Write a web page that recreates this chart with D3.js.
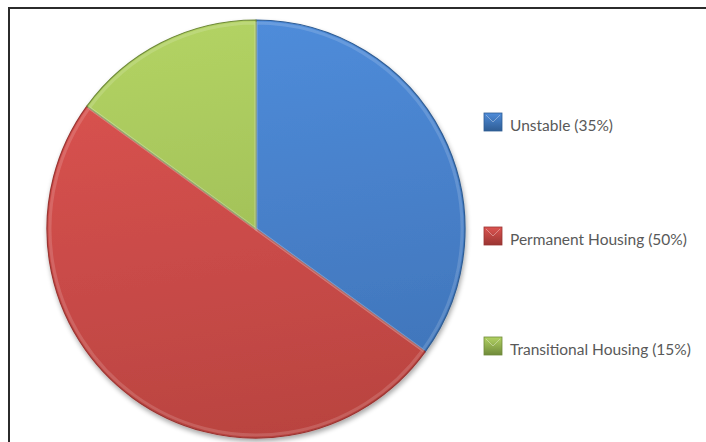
<!DOCTYPE html>
<html>
<head>
<meta charset="utf-8">
<script src="https://cdn.jsdelivr.net/npm/d3@7"></script>
<style>
  body { margin: 0; background: #fff; }
  svg { display: block; }
  .legend text { font-family: 'Lato', 'DejaVu Sans', sans-serif; font-size: 15.5px; fill: #595959; }
</style>
</head>
<body>
<div id="chart"></div>
<script>
// slices, clockwise from 12 o'clock
const categories = [ 'Unstable', 'Permanent Housing', 'Transitional Housing' ];
const shares = [ 35, 50, 15 ];
const legendLabels = [ 'Unstable (35%)', 'Permanent Housing (50%)', 'Transitional Housing (15%)' ];

const topColors = [ '#4f8cda', '#dc5451', '#b2d263' ];
const bottomColors = [ '#3e72b6', '#b94340', '#94b24e' ];
const darkColors = [ '#2f5d94', '#9a3532', '#6f8a3a' ];

const width = 706, height = 442;
const cx = 256, cy = 229, radius = 209;

const svg = d3.select('#chart').append('svg')
  .attr('width', width)
  .attr('height', height);

// frame (only top and left edges fall inside the picture)
svg.append('rect')
  .attr('x', 9).attr('y', 8)
  .attr('width', width + 20).attr('height', height + 20)
  .attr('fill', 'none')
  .attr('stroke', '#2b2b2b')
  .attr('stroke-width', 2);

const defs = svg.append('defs');

const shadow = defs.append('filter').attr('id', 'shadow')
  .attr('x', '-10%').attr('y', '-10%').attr('width', '120%').attr('height', '120%');
shadow.append('feGaussianBlur').attr('in', 'SourceAlpha').attr('stdDeviation', 2.5);
shadow.append('feOffset').attr('dx', 1).attr('dy', 3).attr('result', 'off');
shadow.append('feComponentTransfer').append('feFuncA').attr('type', 'linear').attr('slope', 0.35);
const merge = shadow.append('feMerge');
merge.append('feMergeNode');
merge.append('feMergeNode').attr('in', 'SourceGraphic');

categories.forEach((c, i) => {
  const g = defs.append('linearGradient')
    .attr('id', 'grad' + i)
    .attr('gradientUnits', 'userSpaceOnUse')
    .attr('x1', 0).attr('y1', -radius).attr('x2', radius * 0.3).attr('y2', radius);
  g.append('stop').attr('offset', '0%').attr('stop-color', topColors[i]);
  g.append('stop').attr('offset', '100%').attr('stop-color', bottomColors[i]);

  const sq = defs.append('linearGradient')
    .attr('id', 'sq' + i)
    .attr('x1', 0).attr('y1', 0).attr('x2', 0).attr('y2', 1);
  sq.append('stop').attr('offset', '0%').attr('stop-color', topColors[i]);
  sq.append('stop').attr('offset', '100%').attr('stop-color', darkColors[i]);
});

const pie = d3.pie().sort(null).value(d => d);
const arcs = pie(shares);

const arc = d3.arc().innerRadius(0).outerRadius(radius);
const innerArc = d3.arc().innerRadius(0).outerRadius(radius - 3);

const pieG = svg.append('g')
  .attr('transform', 'translate(' + cx + ',' + cy + ')');

pieG.append('g')
  .attr('filter', 'url(#shadow)')
  .selectAll('path.slice')
  .data(arcs)
  .enter().append('path')
    .attr('class', 'slice')
    .attr('d', arc)
    .attr('fill', (d, i) => 'url(#grad' + i + ')')
    .attr('stroke', (d, i) => darkColors[i])
    .attr('stroke-width', 1.2)
    .attr('stroke-linejoin', 'round');

// soft bevel highlight inside each slice
pieG.selectAll('path.bevel')
  .data(arcs)
  .enter().append('path')
    .attr('class', 'bevel')
    .attr('d', innerArc)
    .attr('fill', 'none')
    .attr('stroke', '#ffffff')
    .attr('stroke-opacity', 0.15)
    .attr('stroke-width', 3);

// legend
const legendY = [ 122, 236, 346 ];
const legend = svg.append('g').attr('class', 'legend');
const items = legend.selectAll('g')
  .data(legendLabels)
  .enter().append('g')
    .attr('transform', (d, i) => 'translate(484,' + legendY[i] + ')');

items.append('rect')
  .attr('x', 0).attr('y', -9)
  .attr('width', 18).attr('height', 18)
  .attr('fill', (d, i) => 'url(#sq' + i + ')')
  .attr('stroke', (d, i) => darkColors[i])
  .attr('stroke-width', 0.8);

items.append('path')
  .attr('d', 'M2,-7 L9,0 L16,-7')
  .attr('fill', 'none')
  .attr('stroke', '#ffffff')
  .attr('stroke-opacity', 0.35)
  .attr('stroke-width', 1);

items.append('text')
  .attr('x', 26)
  .attr('y', 9)
  .text(d => d);
</script>
</body>
</html>
